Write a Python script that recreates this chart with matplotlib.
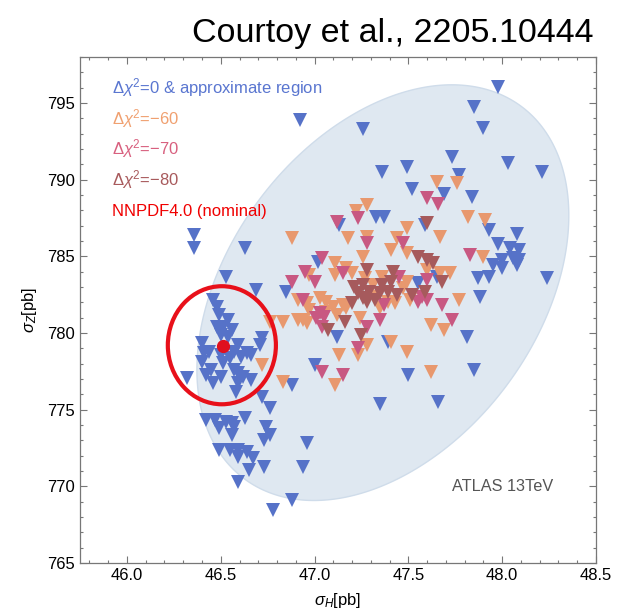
import numpy as np
import matplotlib.pyplot as plt
from matplotlib.patches import Ellipse
from matplotlib.ticker import MultipleLocator, FormatStrFormatter

plt.rcParams['font.family'] = ['Liberation Sans', 'DejaVu Sans']
plt.rcParams['mathtext.fontset'] = 'custom'
plt.rcParams['mathtext.rm'] = 'Liberation Sans'
plt.rcParams['mathtext.it'] = 'Liberation Sans:italic'
plt.rcParams['mathtext.bf'] = 'Liberation Sans:bold'

# sigma_H [pb], sigma_Z [pb] per fit
blue_h = [46.92, 47.26, 47.98, 47.85, 47.90, 47.73, 47.36, 47.49, 48.03, 48.21,
          47.77, 47.52, 47.69, 47.84, 47.13, 47.33, 47.37, 47.59, 47.93, 48.08,
          47.98, 48.04, 48.09, 48.06, 48.00, 48.09, 47.95, 48.00, 48.08, 47.87,
          47.93, 48.24, 47.88, 47.81, 47.85, 47.50, 47.35, 47.66, 47.02, 47.65,
          47.55, 47.12, 47.39, 47.00, 46.88, 46.85, 46.36, 46.36, 46.63, 46.53,
          46.69, 46.46, 46.48, 46.49, 46.54, 46.51, 46.48, 46.56, 46.50, 46.54,
          46.59, 46.40, 46.72, 46.71, 46.64, 46.57, 46.44, 46.41, 46.50, 46.55,
          46.61, 46.66, 46.40, 46.51, 46.45, 46.57, 46.32, 46.42, 46.50, 46.59,
          46.62, 46.46, 46.66, 46.59, 46.58, 46.72, 46.76, 46.42, 46.47, 46.53,
          46.56, 46.63, 46.49, 46.57, 46.56, 46.74, 46.76, 46.73, 46.96, 46.49,
          46.55, 46.59, 46.64, 46.59, 46.67, 46.65, 46.73, 46.94, 46.59, 46.88,
          46.78]
blue_z = [793.91, 793.32, 796.06, 794.76, 793.39, 791.50, 790.52, 790.85, 791.11, 790.52,
          790.32, 789.41, 789.08, 788.89, 787.06, 787.58, 787.58, 787.06, 786.74, 786.47,
          785.82, 785.56, 785.43, 784.91, 784.78, 784.78, 784.45, 784.26, 784.45, 783.60,
          783.67, 783.60, 782.37, 779.76, 777.60, 777.28, 775.39, 775.52, 784.65, 783.67,
          783.28, 779.76, 779.43, 777.93, 776.62, 782.69, 786.41, 785.56, 785.56, 783.67,
          782.82, 782.17, 781.71, 781.19, 780.86, 780.41, 780.41, 780.21, 779.89, 779.76,
          779.23, 779.36, 779.69, 779.23, 778.71, 778.78, 778.78, 778.71, 778.58, 778.39,
          778.45, 778.58, 778.13, 778.06, 777.60, 777.60, 777.08, 777.28, 777.15, 777.41,
          777.15, 776.76, 776.95, 776.76, 776.17, 775.84, 775.12, 774.34, 774.34, 774.21,
          774.15, 774.47, 773.82, 773.89, 773.36, 773.89, 773.36, 773.04, 772.84, 772.38,
          772.38, 772.38, 772.25, 771.93, 771.86, 771.08, 771.28, 771.28, 770.30, 769.12,
          768.47]

orange_h = [47.22, 47.28, 47.65, 47.76, 47.82, 47.91, 47.49, 47.18, 47.28, 47.44,
            47.67, 47.41, 47.49, 47.90, 47.26, 47.11, 47.17, 46.88, 46.97, 47.11,
            47.20, 47.27, 47.36, 47.49, 47.31, 47.60, 47.67, 47.72, 47.47, 47.32,
            47.39, 47.43, 47.35, 47.51, 47.77, 47.03, 46.96, 47.06, 47.10, 47.15,
            47.17, 47.06, 46.97, 46.94, 46.96, 47.12, 47.24, 47.62, 47.69, 47.28,
            47.23, 47.13, 47.41, 47.49, 47.62, 47.11, 46.72, 46.83, 46.91, 46.76,
            46.83, 46.91]
orange_z = [787.97, 788.37, 789.87, 789.80, 787.58, 787.39, 786.87, 786.21, 786.28, 786.21,
            786.28, 785.43, 785.23, 784.97, 784.97, 784.58, 784.26, 786.21, 783.80, 783.80,
            783.93, 783.60, 783.67, 783.34, 783.15, 784.13, 783.93, 783.93, 782.95, 782.37,
            782.04, 781.97, 781.65, 782.17, 782.17, 782.30, 781.97, 782.04, 781.71, 781.84,
            781.65, 781.39, 781.52, 780.86, 780.67, 781.19, 781.00, 780.54, 780.21, 779.23,
            778.58, 778.58, 779.43, 778.78, 777.47, 776.62, 777.93, 776.82, 782.17, 780.73,
            780.73, 780.86]

pink_h = [47.12, 47.23, 47.60, 47.66, 47.28, 47.47, 47.83, 47.04, 47.15, 46.95,
          47.00, 47.45, 47.60, 47.57, 47.60, 47.37, 47.55, 47.68, 46.94, 47.03,
          47.05, 47.01, 47.04, 47.35, 47.73, 47.28, 47.23, 47.04, 47.15, 46.88]
pink_z = [787.26, 787.52, 788.82, 788.43, 785.89, 785.89, 785.10, 784.91, 783.93, 784.00,
          783.34, 783.67, 783.47, 782.37, 782.17, 781.84, 782.04, 781.84, 782.17, 781.32,
          781.06, 781.00, 780.41, 780.86, 780.86, 780.41, 779.04, 777.47, 777.28, 783.34]

brown_h = [47.60, 47.55, 47.60, 47.63, 47.28, 47.42, 47.41, 47.21, 47.26, 47.36,
           47.68, 47.23, 47.29, 47.35, 47.39, 47.44, 47.52, 47.59, 47.26, 47.20,
           47.28, 47.32, 47.16, 47.07, 47.25]
brown_z = [787.19, 784.97, 784.78, 784.58, 784.13, 784.00, 783.34, 783.02, 783.15, 783.15,
           783.34, 782.63, 782.69, 782.63, 782.69, 782.50, 782.50, 782.69, 782.30, 781.97,
           782.04, 782.17, 780.73, 780.21, 779.89]

nominal_h, nominal_z = 46.51, 779.17

# ATLAS 13 TeV region: centre and half-axis vectors
ell_center = (47.364, 782.63)
ell_major = (0.7375, 12.15)
ell_minor = (-0.662, 6.01)

legend_labels = [r'$\Delta\chi^2$=0 & approximate region', r'$\Delta\chi^2$=−60',
                 r'$\Delta\chi^2$=−70', r'$\Delta\chi^2$=−80', 'NNPDF4.0 (nominal)']
legend_colors = ['#5a76d0', '#f0a070', '#d8607f', '#a85a5c', '#f00000']

fig = plt.figure(figsize=(6.27, 6.14), dpi=100)
ax = fig.add_axes([0.1276, 0.0831, 0.823, 0.8241])

t = np.linspace(0, 2 * np.pi, 300)
ex = ell_center[0] + ell_major[0] * np.cos(t) + ell_minor[0] * np.sin(t)
ey = ell_center[1] + ell_major[1] * np.cos(t) + ell_minor[1] * np.sin(t)
ax.fill(ex, ey, facecolor='#dfe8f1', edgecolor='#cfdcea', lw=1, zorder=1)

mk = dict(marker='v', ms=9.5, ls='none', mew=0, zorder=3)
ax.plot(blue_h, blue_z, color='#5672c8', **mk)
ax.plot(orange_h, orange_z, color='#e8986e', **mk)
ax.plot(pink_h, pink_z, color='#c85882', **mk)
ax.plot(brown_h, brown_z, color='#a65a5c', **mk)

ax.plot([nominal_h], [nominal_z], 'o', color='#e0101e', ms=9.5, mew=0, zorder=5)
ax.add_patch(Ellipse((46.506, 779.2), 0.576, 7.7, fill=False,
                     ec='#e8101a', lw=3, zorder=4))

for i, (lab, col) in enumerate(zip(legend_labels, legend_colors)):
    ax.text(0.0614, 0.9283 - i * 0.0607, lab, color=col, fontsize=12,
            transform=ax.transAxes, va='baseline', ha='left')

ax.text(48.27, 770.0, 'ATLAS 13TeV', color='#555555', fontsize=11.7,
        ha='right', va='center')

ax.set_xlim(45.75, 48.5)
ax.set_ylim(765, 798)
ax.xaxis.set_major_locator(MultipleLocator(0.5))
ax.xaxis.set_minor_locator(MultipleLocator(0.1))
ax.yaxis.set_major_locator(MultipleLocator(5))
ax.yaxis.set_minor_locator(MultipleLocator(1))
ax.xaxis.set_major_formatter(FormatStrFormatter('%.1f'))
ax.tick_params(which='both', direction='in', top=True, right=True,
               color='#777777', labelsize=12, width=0.8)
ax.tick_params(which='major', length=5)
ax.tick_params(which='minor', length=2.5)
for s in ax.spines.values():
    s.set_color('#777777')
    s.set_linewidth(0.9)

ax.set_xlabel(r'$\sigma_H$[pb]', fontsize=12, labelpad=6)
ax.set_ylabel(r'$\sigma_Z$[pb]', fontsize=12, labelpad=6)

fig.text(0.947, 0.9316, 'Courtoy et al., 2205.10444', fontsize=24.5,
         ha='right', va='baseline')

fig.savefig('out.png', dpi=100)
